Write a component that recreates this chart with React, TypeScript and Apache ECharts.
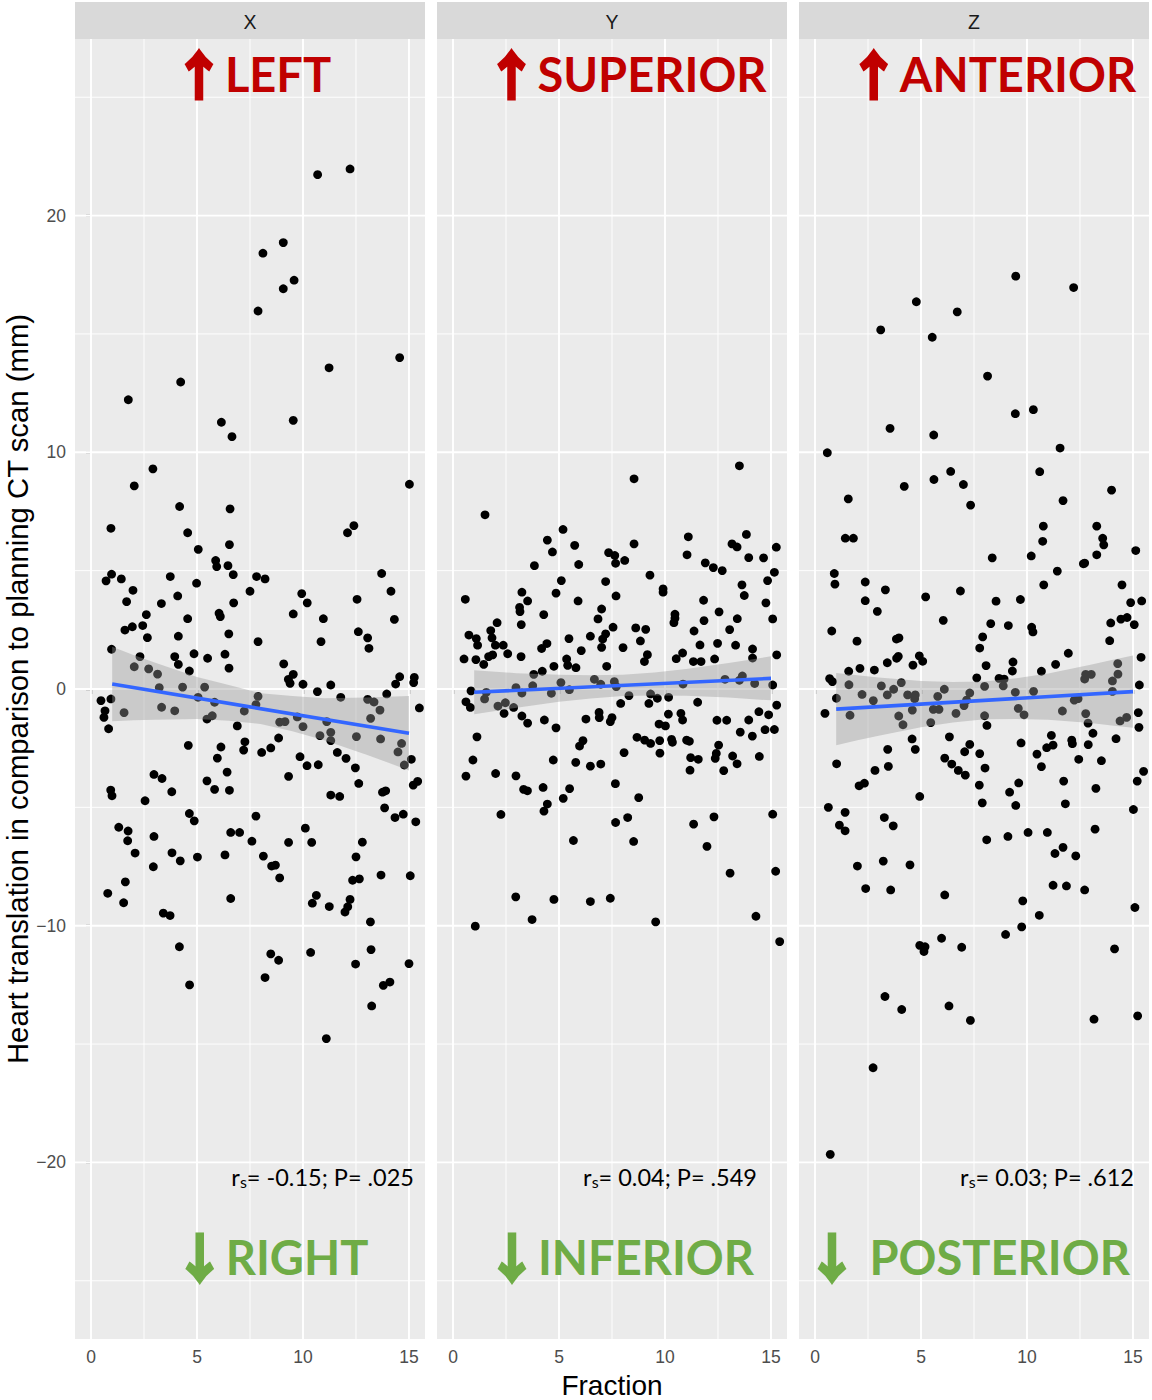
import React, { useEffect, useRef } from "react";
import * as echarts from "echarts";

// ---------- data ----------
const panelNames = ["X", "Y", "Z"];
const upLabels = ["LEFT", "SUPERIOR", "ANTERIOR"];
const downLabels = ["RIGHT", "INFERIOR", " POSTERIOR"];
const rsValues = ["-0.15", "0.04", "0.03"];
const pValues = [".025", ".549", ".612"];
const xTicks = [0, 5, 10, 15];
const yTicks = [-20, -10, 0, 10, 20];
const xMajorGrid = [0, 5, 10, 15];
const xMinorGrid = [2.5, 7.5, 12.5];
const yMajorGrid = [-20, -10, 0, 10, 20];
const yMinorGrid = [-25, -15, -5, 5, 15, 25];

const pointsX = [
  [10.69,21.73],[12.22,21.97],[9.07,18.86],[8.11,18.41],[9.58,17.27],[9.07,16.91],[7.88,15.97],[14.56,14.0],[11.23,13.57],[4.23,12.97],[1.76,12.22],[6.15,11.27],[9.54,11.35],[6.65,10.66],[2.92,9.30],[2.04,8.58],[15.02,8.65],[4.18,7.71],[6.56,7.61],[0.94,6.79],[4.56,6.60],[12.4,6.9],[12.1,6.6],[6.53,6.10],[5.06,5.90],
  [5.88,5.43],[5.93,5.17],[6.46,5.21],[0.97,4.85],[0.71,4.57],[1.43,4.65],[3.74,4.75],[6.71,4.83],[7.81,4.75],[8.21,4.65],[4.98,4.47],[13.71,4.88],[14.15,4.13],[1.98,4.17],[1.68,3.69],[7.50,4.13],[9.94,4.03],[10.20,3.64],[12.55,3.79],[4.09,3.93],[3.32,3.61],[6.73,3.64],[2.61,3.14],[6.04,3.20],[6.10,3.06],[4.56,2.97],[9.54,3.17],[10.96,2.97],[14.31,2.94],[1.60,2.49],[1.95,2.63],[2.44,2.68],[2.66,2.17],[4.12,2.23],[6.50,2.33],[7.88,2.00],[10.85,2.00],[12.61,2.42],[13.05,2.16],[13.11,1.72],[0.97,1.68],[2.31,1.37],[2.04,0.94],[2.72,0.85],[3.14,0.63],[3.95,1.37],[4.12,1.04],[4.86,1.49],[4.64,0.76],[5.50,1.30],[6.32,1.47],[6.51,0.88],[9.09,1.06],[9.54,0.62],[9.31,0.41],[9.39,0.24],[10.0,0.20],[11.31,0.17],[10.68,-0.11],[11.78,-0.35],[14.56,0.52],[14.37,0.21],[15.25,0.49],[15.22,0.27],[13.95,-0.21],[13.05,-0.44],[13.35,-0.55],[13.63,-0.89],[13.19,-1.24],[15.49,-0.80],[0.47,-0.49],[0.94,-0.42],[0.66,-0.92],[0.61,-1.20],[0.83,-1.68],[1.56,-1.0],[3.22,0.06],[3.33,-0.77],[3.95,-0.92],[4.32,0.08],[5.05,-0.35],[5.36,0.08],[5.83,-0.56],[5.47,-1.27],[5.72,-1.13],[7.88,-0.31],[7.78,-0.66],[7.23,-0.93],[6.90,-1.56],[8.90,-1.40],[9.15,-1.38],[9.73,-1.18],[10.0,-1.59],[11.12,-1.38],[11.31,-1.83],[11.31,-2.18],[10.80,-1.97],[12.52,-2.01],[13.66,-2.11],[14.65,-2.30],[14.48,-2.66],[14.78,-3.21],[15.11,-2.97],[4.59,-2.38],[6.13,-2.45],[5.96,-2.92],[7.26,-2.23],[7.20,-2.58],[8.05,-2.68],[8.48,-2.49],[8.85,-2.07],[9.86,-2.86],[10.19,-3.24],[10.72,-3.20],[11.62,-2.68],[12.03,-2.93],[12.47,-3.33],[6.42,-3.51],[9.32,-3.69],[12.63,-3.99],[2.97,-3.61],[3.35,-3.78],[3.81,-4.34],[2.55,-4.72],[0.93,-4.27],[0.99,-4.51],[5.47,-3.88],[5.83,-4.24],[6.53,-4.28],[11.31,-4.48],[11.73,-4.54],[13.75,-4.36],[13.9,-4.3],[13.85,-5.02],[14.34,-5.43],[14.73,-5.29],[15.20,-4.06],[15.41,-3.90],[15.32,-5.61],[4.64,-5.26],[4.87,-5.57],[7.78,-5.37],[1.31,-5.84],[1.75,-6.0],[2.97,-6.23],[6.59,-6.06],[7.01,-6.06],[10.11,-5.88],
  [1.73,-6.41],[7.59,-6.43],[9.32,-6.48],[10.41,-6.48],[12.80,-6.47],[2.08,-6.93],[3.82,-6.92],[4.21,-7.26],[2.94,-7.51],[5.02,-7.10],[6.32,-7.01],[8.13,-7.06],[8.52,-7.48],[8.70,-7.44],[8.90,-7.98],[12.50,-7.09],[12.34,-8.08],[12.66,-8.02],[13.68,-7.86],[15.06,-7.89],[1.62,-8.15],[0.79,-8.63],[1.54,-9.03],[3.41,-9.47],[3.73,-9.57],[6.59,-8.85],[10.63,-8.72],[10.44,-9.05],[11.24,-9.19],[12.22,-8.89],[12.11,-9.2],[11.98,-9.42],[13.18,-9.84],[4.17,-10.89],[8.48,-11.19],[8.85,-11.46],[8.21,-12.19],[4.65,-12.50],[10.36,-11.13],[13.21,-11.01],[12.48,-11.62],[15.0,-11.60],[13.79,-12.52],[14.10,-12.38],[13.24,-13.39],[11.10,-14.77],
];

const pointsY = [
  [13.51,9.43],[8.54,8.88],[1.51,7.36],[5.19,6.74],[4.45,6.29],[4.69,5.79],[5.74,6.07],[3.84,5.21],[5.93,5.26],[7.34,5.76],[7.63,5.64],[7.67,5.31],[8.10,5.43],[8.54,6.13],[11.10,6.43],[11.04,5.67],[11.90,5.33],[12.28,5.13],[12.70,5.0],[13.16,6.13],[13.40,6.00],[13.84,6.53],[13.95,5.55],[14.65,5.54],[15.25,5.99],[15.16,4.93],[14.84,4.58],[13.63,4.40],[13.74,3.95],[14.76,3.64],[15.08,2.96],[9.29,4.81],[9.91,4.23],[9.91,4.09],[7.20,4.54],[7.69,3.93],[5.11,4.58],[4.86,4.05],[5.90,3.72],[3.25,4.09],[3.52,3.72],[3.14,3.45],[3.16,3.27],[3.22,2.72],[4.28,3.14],[0.58,3.79],[7.01,3.38],[6.84,2.96],[7.55,2.61],[7.20,2.33],[7.06,2.11],[7.01,1.76],[6.48,2.23],[5.47,2.13],[6.05,1.62],[4.43,1.92],[4.18,1.71],[5.36,1.27],[5.41,1.00],[5.80,0.90],[4.76,0.96],[3.21,1.37],[2.58,1.49],[2.08,2.80],[0.75,2.28],[1.10,2.13],[1.16,1.85],[1.78,2.47],[1.84,2.16],[2.0,1.85],[2.37,1.85],[1.87,1.44],[1.68,1.37],[0.52,1.27],[1.08,1.24],[1.45,1.04],[7.25,0.96],[8.02,1.75],[8.62,2.58],[9.09,2.52],[8.84,2.03],[9.17,1.45],[9.03,1.16],[10.47,3.16],[10.47,2.99],[10.42,2.80],[11.82,3.75],[11.84,2.89],[12.55,3.26],[11.37,2.45],[11.65,1.86],[12.48,1.93],[13.05,2.51],[13.41,2.97],[13.33,1.85],[14.13,1.69],[14.13,1.31],[15.27,1.44],[10.53,1.28],[10.83,1.52],[11.34,1.16],[11.70,1.16],[12.34,1.27],
  [3.81,0.62],[4.21,0.75],[3.76,0.14],[2.97,0.06],[3.25,-0.17],[5.09,0.27],[4.64,-0.18],[5.49,-0.03],[6.67,0.41],[6.97,0.20],[7.61,0.31],[7.70,0.10],[10.85,0.21],[12.83,0.41],[13.51,0.37],[13.65,0.55],[14.23,0.23],[15.08,0.17],[0.85,-0.08],[1.57,-0.14],[1.49,-0.42],[8.30,-0.28],[9.32,-0.21],[9.64,-0.39],[10.17,-0.35],[0.61,-0.54],[7.91,-0.61],[9.24,-0.61],[11.54,-0.56],[15.27,-0.68],
  [0.82,-0.78],[2.12,-0.72],[2.47,-0.58],[2.86,-0.78],[2.41,-1.03],[3.25,-1.14],[3.52,-1.44],[4.31,-1.31],[4.86,-1.64],[6.27,-1.27],[6.89,-0.99],[6.90,-1.21],[7.50,-1.21],[7.42,-1.38],[10.16,-1.06],[10.75,-1.03],[10.83,-1.31],[9.72,-1.48],[10.02,-1.56],[8.68,-2.04],[9.04,-2.16],[9.32,-2.30],[9.75,-2.18],[10.31,-2.13],[10.35,-2.25],[11.02,-2.16],[11.15,-2.21],[9.76,-2.71],[8.07,-2.69],[12.45,-1.32],[12.91,-1.32],[12.53,-2.37],[12.42,-2.72],[12.37,-2.93],[11.21,-2.90],[11.57,-2.97],[11.18,-3.43],[12.77,-3.45],[13.19,-2.83],[13.40,-3.16],[13.95,-1.31],[13.55,-1.82],[14.12,-1.99],[14.43,-0.96],[14.89,-1.09],[14.72,-1.72],[15.16,-1.71],[14.45,-2.85],[1.13,-2.02],[0.94,-3.00],[0.61,-3.68],[2.01,-3.57],[2.97,-3.67],[3.33,-4.24],[3.51,-4.30],[4.25,-4.16],[5.50,-4.21],[5.20,-4.62],[4.45,-4.86],[4.29,-5.16],[4.73,-3.00],[5.79,-3.10],[6.13,-2.18],[5.97,-2.41],[6.48,-3.26],[6.97,-3.17],[7.66,-4.00],[8.76,-4.59],[2.26,-5.30],[7.67,-5.64],[8.24,-5.43],[5.68,-6.40],[8.52,-6.44],[11.35,-5.71],[12.31,-5.40],[11.98,-6.65],[15.08,-5.29],[13.07,-7.78],[15.22,-7.70],[2.96,-8.78],[4.76,-8.89],[6.48,-8.98],[7.42,-8.84],[3.73,-9.74],[1.05,-10.02],[9.56,-9.84],[14.29,-9.60],[15.41,-10.67],
];

const pointsZ = [
  [9.47,17.44],[12.20,16.96],[4.78,16.36],[6.71,15.93],[3.10,15.17],[5.53,14.86],[8.14,13.22],[9.45,11.63],[10.30,11.80],[3.54,11.01],[5.60,10.73],[0.58,9.98],[11.56,10.18],[6.40,9.19],[5.61,8.85],[7.0,8.64],[4.21,8.56],[10.60,9.18],[13.99,8.40],[11.70,7.96],[1.57,8.03],[7.34,7.77],[10.77,6.88],[10.74,6.24],[13.29,6.88],[13.57,6.37],[13.62,6.09],[13.29,5.67],[15.13,5.85],[1.43,6.37],[1.81,6.37],[8.36,5.54],[10.20,5.62],[12.66,5.29],[12.72,5.32],[11.43,4.98],[0.91,4.88],[0.94,4.43],[2.37,4.52],[3.32,4.19],[6.86,4.14],[10.79,4.40],[14.48,4.40],
  [2.37,3.73],[2.94,3.28],[5.22,3.89],[6.05,2.90],[8.54,3.71],[9.69,3.78],[8.29,2.76],[9.12,2.68],[10.22,2.61],[10.28,2.41],[14.89,3.65],[15.41,3.72],[13.95,2.79],[14.43,2.95],[14.72,3.02],[15.06,2.72],[13.90,2.04],[0.79,2.45],[1.98,2.02],[3.84,2.11],[3.96,2.16],[3.85,1.30],[3.93,1.38],[3.41,1.11],[4.92,1.40],[5.08,1.17],[4.62,1.01],[7.91,2.20],[7.77,1.73],[8.07,0.99],[9.34,1.14],[9.31,0.76],[7.63,0.47],[8.68,0.45],[8.92,0.42],[8.88,0.13],[10.68,0.75],[11.35,1.04],[11.95,1.51],[15.38,1.34],[15.30,0.17],[1.59,0.75],[2.12,0.87],[2.80,0.80],[0.69,0.44],[0.82,0.31],[1.60,0.18],[2.22,-0.23],[3.13,0.13],[3.41,-0.25],[3.71,-0.01],[4.07,0.27],[4.37,-0.25],[4.73,-0.25],[4.70,-0.41],[1.01,-0.39],[2.75,-0.49],[0.47,-1.03],[1.65,-1.11],[4.59,-0.89],[3.95,-1.14],[4.15,-1.51],[5.58,-0.86],[5.85,-0.86],[5.79,-0.31],[6.10,-0.01],[5.46,-1.42],[6.65,-1.03],[7.03,-0.70],[7.15,-0.47],[7.30,-0.17],[8.0,0.11],[8.0,-1.13],[8.11,-1.54],[9.45,-0.14],[9.59,-0.82],[9.86,-1.09],[10.31,-0.10],[11.67,-0.93],[12.23,-0.47],[12.41,-0.41],[12.72,0.42],[12.77,0.62],[13.03,0.62],[12.77,-1.04],[12.88,-1.44],[13.11,-1.87],[14.03,0.34],[14.29,0.63],[14.28,1.07],[14.03,-0.10],[14.39,-1.35],[14.70,-1.20],[15.25,-1.0],[15.28,-1.62],[14.20,-2.10],[12.89,-2.35],[12.11,-2.16],[12.14,-2.31],[12.44,-2.97],[13.51,-3.03],[11.15,-1.96],[11.23,-2.37],[10.93,-2.48],[10.47,-2.75],[10.68,-3.28],[9.72,-2.28],[6.34,-2.02],[7.30,-2.34],[7.06,-2.65],[7.77,-2.73],[8.02,-3.34],[6.12,-2.92],[6.45,-3.17],[6.76,-3.44],[7.09,-3.64],[4.58,-2.11],[4.73,-2.55],[3.43,-2.55],[3.46,-3.27],[2.83,-3.44],[1.02,-3.16],[2.08,-4.09],[2.33,-3.98],[4.94,-4.54],[7.75,-4.06],[7.89,-4.81],[9.18,-4.36],[9.61,-3.97],[9.47,-4.92],[11.73,-3.89],[11.81,-4.85],[13.25,-4.20],[15.50,-3.48],[15.20,-3.89],[15.02,-5.09],[0.63,-5.0],[1.42,-5.21],[1.15,-5.75],[1.42,-5.99],[3.27,-5.43],[3.69,-5.78],[8.10,-6.37],[9.10,-6.23],[10.05,-6.06],[10.96,-6.06],[13.21,-5.92],[11.70,-6.69],[11.32,-6.95],[12.30,-7.05],
  [2.0,-7.48],[3.22,-7.27],[4.48,-7.43],[2.39,-8.43],[3.57,-8.49],[6.12,-8.70],[11.23,-8.29],[11.86,-8.32],[12.72,-8.49],[9.80,-8.95],[10.58,-9.56],[9.75,-10.05],[8.99,-10.37],[15.09,-9.23],[4.94,-10.83],[5.19,-10.89],[5.14,-11.09],[5.97,-10.53],[6.92,-10.91],[14.13,-10.98],[3.30,-12.99],[4.09,-13.54],[6.32,-13.39],[7.33,-14.0],[13.16,-13.95],[15.22,-13.81],[2.74,-16.0],[0.72,-19.66],
];

// linear fits (endpoints) and confidence bands
const fitX = [1, 15];
const fitYX = [0.21, -1.87];
const fitYY = [-0.14, 0.45];
const fitYZ = [-0.85, -0.11];
const bandX = [1, 2, 3, 5, 6.5, 8, 9.5, 11, 13, 14, 15];
const bandLoX = [-1.36, -1.32, -1.30, -1.27, -1.34, -1.48, -1.78, -2.17, -2.78, -3.10, -3.44];
const bandHiX = [1.78, 1.44, 1.12, 0.51, 0.17, -0.18, -0.30, -0.39, -0.36, -0.33, -0.30];
const bandLoY = [-1.07, -0.93, -0.79, -0.54, -0.40, -0.30, -0.27, -0.29, -0.36, -0.42, -0.48];
const bandHiY = [0.79, 0.73, 0.67, 0.60, 0.58, 0.60, 0.70, 0.85, 1.10, 1.24, 1.38];
const bandLoZ = [-2.38, -2.17, -1.97, -1.62, -1.42, -1.28, -1.27, -1.30, -1.44, -1.54, -1.64];
const bandHiZ = [0.68, 0.58, 0.49, 0.34, 0.30, 0.32, 0.45, 0.66, 1.02, 1.22, 1.42];

const allPoints = [pointsX, pointsY, pointsZ];
const allFits = [fitYX, fitYY, fitYZ];
const allLo = [bandLoX, bandLoY, bandLoZ];
const allHi = [bandHiX, bandHiY, bandHiZ];

// ---------- layout ----------
const X_MIN = -0.755;
const X_MAX = 15.755;
const Y_MIN = -27.46;
const Y_MAX = 27.46;
const PANEL_LEFT = [75, 437, 799];
const PANEL_W = 350;
const PANEL_TOP = 39;
const PANEL_H = 1300;

const upCenters = [252, 626, 992];
const downCenters = [271, 620, 968];
const rsRight = [414, 757, 1134];

const TICK_FONT = "'Liberation Sans', Arial, sans-serif";
const NOTE_FONT = "Lato, 'Open Sans', sans-serif";
const ARROW_FONT = "'Noto Sans CJK SC', 'Liberation Sans', sans-serif";

function fmtMinus(v: number) {
  return v < 0 ? "\u2212" + Math.abs(v) : String(v);
}

function buildOption() {
  const grid: any[] = [];
  const xAxis: any[] = [];
  const yAxis: any[] = [];
  const series: any[] = [];
  const graphic: any[] = [];

  for (let i = 0; i < 3; i++) {
    grid.push({
      left: PANEL_LEFT[i],
      top: PANEL_TOP,
      width: PANEL_W,
      height: PANEL_H,
      show: true,
      backgroundColor: "#EBEBEB",
      borderWidth: 0,
    });
    xAxis.push({
      type: "value",
      gridIndex: i,
      min: X_MIN,
      max: X_MAX,
      axisLine: { show: false },
      splitLine: { show: false },
      axisTick: {
        show: true,
        customValues: xTicks,
        length: 5,
        lineStyle: { color: "#333333", width: 1.3 },
      },
      axisLabel: {
        customValues: xTicks,
        color: "#4D4D4D",
        fontSize: 17.5,
        fontFamily: TICK_FONT,
        margin: 9,
      },
    });
    yAxis.push({
      type: "value",
      gridIndex: i,
      min: Y_MIN,
      max: Y_MAX,
      axisLine: { show: false },
      splitLine: { show: false },
      axisTick: {
        show: i === 0,
        customValues: yTicks,
        length: 5,
        lineStyle: { color: "#333333", width: 1.3 },
      },
      axisLabel: {
        show: i === 0,
        customValues: yTicks,
        color: "#4D4D4D",
        fontSize: 17.5,
        fontFamily: TICK_FONT,
        margin: 9,
        formatter: (v: number) => fmtMinus(v),
      },
    });

    // grid lines
    const vLines = xMajorGrid.map((v) => [v, 1.9]).concat(xMinorGrid.map((v) => [v, 0.95]));
    const hLines = yMajorGrid.map((v) => [v, 1.9]).concat(yMinorGrid.map((v) => [v, 0.95]));
    series.push({
      type: "custom",
      xAxisIndex: i,
      yAxisIndex: i,
      silent: true,
      z: 1,
      data: vLines,
      encode: { x: 0 },
      renderItem: (params: any, api: any) => {
        const v = api.value(0);
        const w = api.value(1);
        const p1 = api.coord([v, Y_MIN]);
        const p2 = api.coord([v, Y_MAX]);
        return {
          type: "line",
          shape: { x1: p1[0], y1: p1[1], x2: p2[0], y2: p2[1] },
          style: { stroke: "#FFFFFF", lineWidth: w },
        };
      },
    });
    series.push({
      type: "custom",
      xAxisIndex: i,
      yAxisIndex: i,
      silent: true,
      z: 1,
      data: hLines.map((d) => [0, d[0], d[1]]),
      renderItem: (params: any, api: any) => {
        const v = api.value(1);
        const w = api.value(2);
        const p1 = api.coord([X_MIN, v]);
        const p2 = api.coord([X_MAX, v]);
        return {
          type: "line",
          shape: { x1: p1[0], y1: p1[1], x2: p2[0], y2: p2[1] },
          style: { stroke: "#FFFFFF", lineWidth: w },
        };
      },
    });

    // points
    series.push({
      type: "scatter",
      xAxisIndex: i,
      yAxisIndex: i,
      data: allPoints[i],
      symbolSize: 8.8,
      itemStyle: { color: "#000000", opacity: 1 },
      z: 2,
      silent: true,
    });

    // confidence band
    const lo = allLo[i];
    const hi = allHi[i];
    series.push({
      type: "custom",
      xAxisIndex: i,
      yAxisIndex: i,
      silent: true,
      z: 3,
      data: [[bandX[0], lo[0]]],
      renderItem: (params: any, api: any) => {
        const pts: number[][] = [];
        for (let k = 0; k < bandX.length; k++) pts.push(api.coord([bandX[k], hi[k]]));
        for (let k = bandX.length - 1; k >= 0; k--) pts.push(api.coord([bandX[k], lo[k]]));
        return {
          type: "polygon",
          shape: { points: pts },
          style: { fill: "rgba(153,153,153,0.4)", stroke: "none" },
        };
      },
    });

    // fit line
    series.push({
      type: "line",
      xAxisIndex: i,
      yAxisIndex: i,
      data: fitX.map((x, k) => [x, allFits[i][k]]),
      symbol: "none",
      lineStyle: { color: "#3366FF", width: 3.6 },
      z: 4,
      silent: true,
    });

    // strip
    graphic.push({
      type: "rect",
      shape: { x: PANEL_LEFT[i], y: 2, width: PANEL_W, height: 37 },
      style: { fill: "#D9D9D9" },
      silent: true,
    });
    graphic.push({
      type: "text",
      x: PANEL_LEFT[i] + PANEL_W / 2,
      y: 21.5,
      style: {
        text: panelNames[i],
        fill: "#1A1A1A",
        fontSize: 19.5,
        fontFamily: TICK_FONT,
        textAlign: "center",
        textVerticalAlign: "middle",
      },
      silent: true,
    });

    // direction annotations
    const red = "#C00000";
    const green = "#6FAC46";
    graphic.push({
      type: "text",
      x: upCenters[i],
      y: 74,
      z: 10,
      style: {
        text: "{a|\u2191}{b|" + upLabels[i] + "}",
        textAlign: "center",
        textVerticalAlign: "middle",
        rich: {
          a: { fontFamily: ARROW_FONT, fontWeight: "bold", fontSize: 52, fill: red, stroke: red, lineWidth: 3.2, padding: [0, 0, 4, 0] },
          b: { fontFamily: NOTE_FONT, fontWeight: "bold", fontSize: 47, fill: red },
        },
      },
      silent: true,
    });
    graphic.push({
      type: "text",
      x: downCenters[i],
      y: 1257,
      z: 10,
      style: {
        text: "{a|\u2193}{b|" + downLabels[i] + "}",
        textAlign: "center",
        textVerticalAlign: "middle",
        rich: {
          a: { fontFamily: ARROW_FONT, fontWeight: "bold", fontSize: 52, fill: green, stroke: green, lineWidth: 3.2, padding: [0, 0, 4, 0] },
          b: { fontFamily: NOTE_FONT, fontWeight: "bold", fontSize: 47, fill: green },
        },
      },
      silent: true,
    });
    graphic.push({
      type: "text",
      x: rsRight[i],
      y: 1177,
      z: 10,
      style: {
        text: "{r|r}{s|s}{t|= " + rsValues[i] + "; P= " + pValues[i] + "}",
        textAlign: "right",
        textVerticalAlign: "middle",
        rich: {
          r: { fontFamily: NOTE_FONT, fontSize: 23.5, fill: "#000000" },
          s: { fontFamily: NOTE_FONT, fontSize: 16, fill: "#000000", verticalAlign: "bottom" },
          t: { fontFamily: NOTE_FONT, fontSize: 23.5, fill: "#000000" },
        },
      },
      silent: true,
    });
  }

  // axis titles
  graphic.push({
    type: "text",
    x: 17,
    y: 689,
    rotation: Math.PI / 2,
    style: {
      text: "Heart translation in comparison to planning CT scan (mm)",
      fill: "#000000",
      fontSize: 29.3,
      fontFamily: TICK_FONT,
      textAlign: "center",
      textVerticalAlign: "middle",
    },
    silent: true,
  });
  graphic.push({
    type: "text",
    x: 612,
    y: 1385,
    style: {
      text: "Fraction",
      fill: "#000000",
      fontSize: 28,
      fontFamily: TICK_FONT,
      textAlign: "center",
      textVerticalAlign: "middle",
    },
    silent: true,
  });

  return {
    animation: false,
    backgroundColor: "#FFFFFF",
    grid,
    xAxis,
    yAxis,
    series,
    graphic,
  };
}

export default function App() {
  const ref = useRef<HTMLDivElement>(null);
  useEffect(() => {
    if (!ref.current) return;
    const chart = echarts.init(ref.current, undefined, { renderer: "svg" });
    chart.setOption(buildOption() as any);
    return () => chart.dispose();
  }, []);
  return (
    <div
      ref={ref}
      style={{ position: "absolute", left: 0, top: 0, width: 1152, height: 1400 }}
    />
  );
}
